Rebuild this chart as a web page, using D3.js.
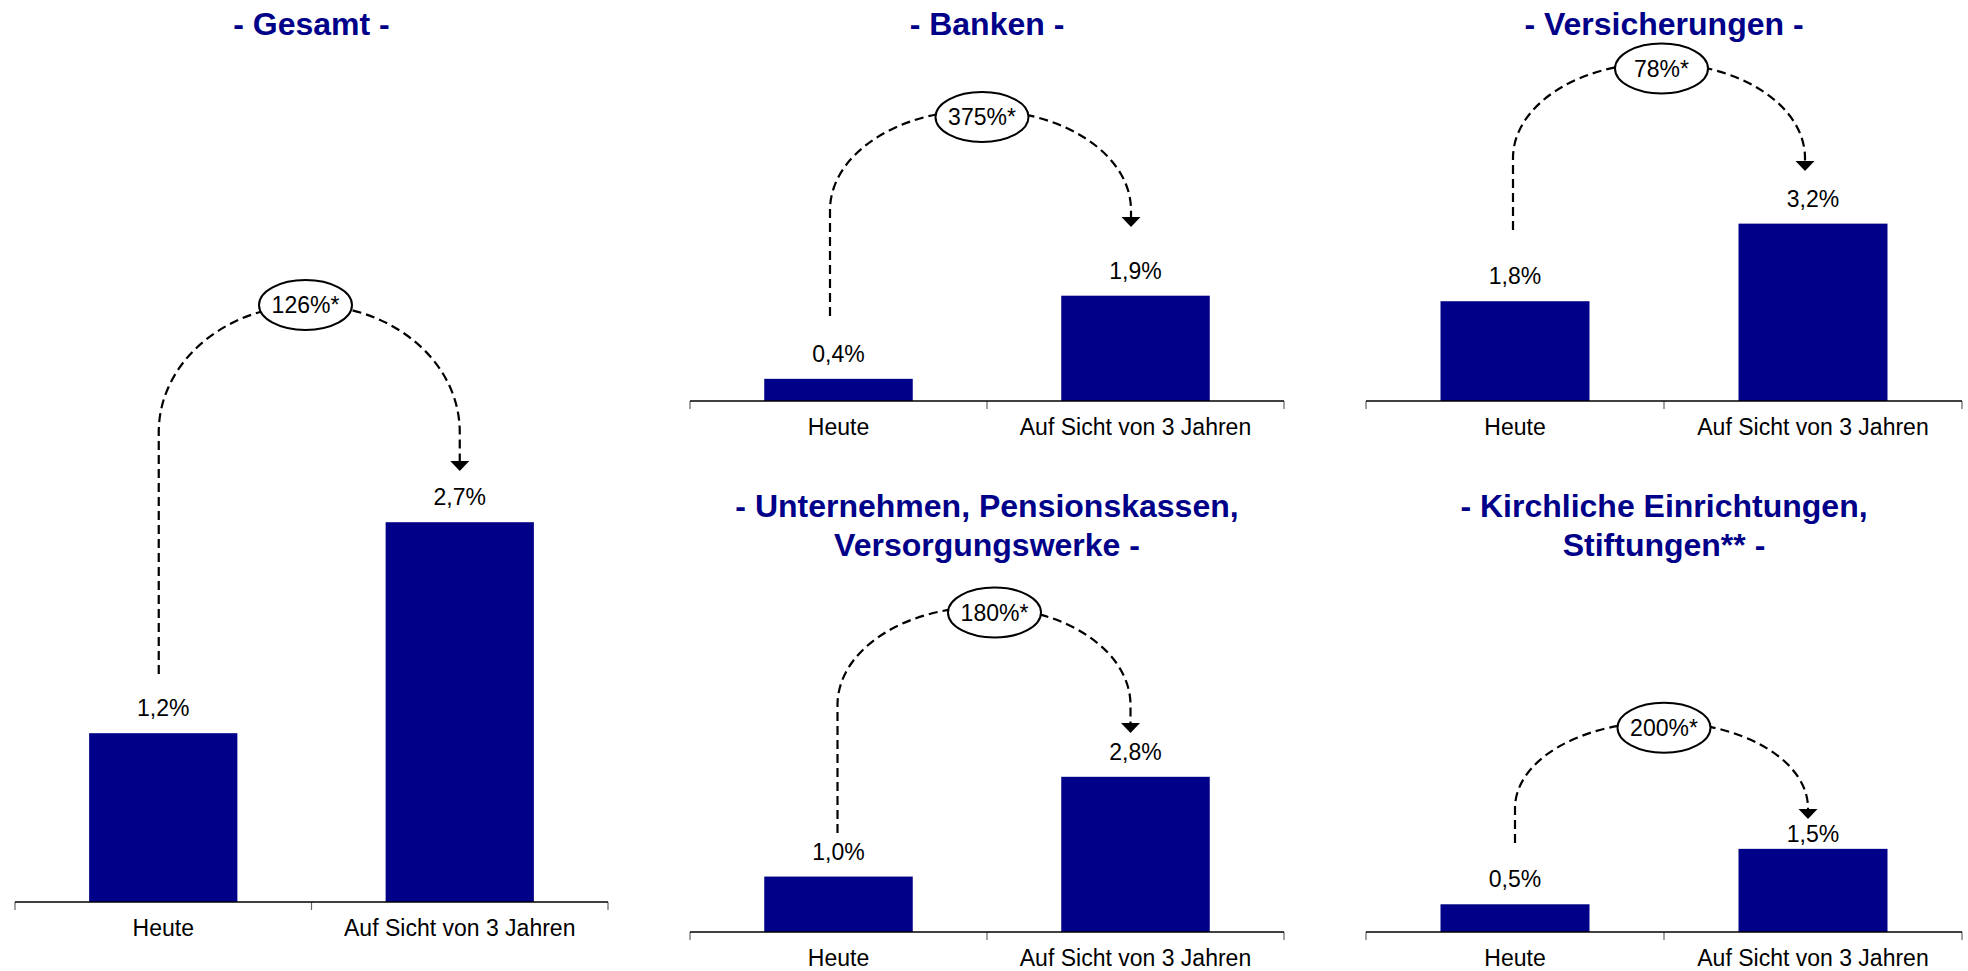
<!DOCTYPE html>
<html lang="de">
<head>
<meta charset="utf-8">
<title>Anteil heute und auf Sicht von 3 Jahren</title>
<script src="https://cdn.jsdelivr.net/npm/d3@7"></script>
<style>
  html, body { margin: 0; padding: 0; background: #ffffff; }
  svg { display: block; }
  text { font-family: "Liberation Sans", Arial, Helvetica, sans-serif; }
</style>
</head>
<body>
<svg id="chart" width="1968" height="971"></svg>
<script>
// ---- data ----
const categories = ["Heute", "Auf Sicht von 3 Jahren"];
const panelTitles = [
  ["- Gesamt -"],
  ["- Banken -"],
  ["- Versicherungen -"],
  ["- Unternehmen, Pensionskassen,", "Versorgungswerke -"],
  ["- Kirchliche Einrichtungen,", "Stiftungen** -"]
];
const heute = [1.2, 0.4, 1.8, 1.0, 0.5];
const aufSicht3Jahre = [2.7, 1.9, 3.2, 2.8, 1.5];
const growthLabels = ["126%*", "375%*", "78%*", "180%*", "200%*"];

// ---- layout of the five small charts ----
const layout = [
  { x0: 15,   x1: 608,  axisY: 902, yMax: 3.0, plotH: 422, titleY: 35, valGap: [17, 17],
    ell: [305.5, 305],  arc: { dxL: -4.5, dxR: 0,    top: 305, yv: 432, leftEnd: 674, tip: 471 } },
  { x0: 690,  x1: 1284, axisY: 401, yMax: 3.5, plotH: 194, titleY: 35, valGap: [17, 17],
    ell: [982, 117],    arc: { dxL: -8.5, dxR: -4.5, top: 110, yv: 210, leftEnd: 316, tip: 227 } },
  { x0: 1366, x1: 1962, axisY: 401, yMax: 3.5, plotH: 194, titleY: 35, valGap: [17, 17],
    ell: [1661.5, 68.5], arc: { dxL: -2,  dxR: -8,   top: 63,  yv: 158, leftEnd: 230, tip: 171 } },
  { x0: 690,  x1: 1284, axisY: 932, yMax: 3.5, plotH: 194, titleY: 517, valGap: [17, 17],
    ell: [994.5, 612.5], arc: { dxL: -1,  dxR: -5,   top: 607, yv: 705, leftEnd: 833, tip: 733 } },
  { x0: 1366, x1: 1962, axisY: 932, yMax: 3.5, plotH: 194, titleY: 517, valGap: [17, 7],
    ell: [1664, 727.7],  arc: { dxL: 0,   dxR: -5,   top: 722, yv: 808, leftEnd: 843, tip: 819 } }
];

const BAR = "#000088";
const TITLE = "#000088";
const fmt = v => d3.format(".1f")(v).replace(".", ",") + "%";

const svg = d3.select("#chart");

layout.forEach((L, i) => {
  const values = [heute[i], aufSicht3Jahre[i]];
  const g = svg.append("g").attr("class", "panel");

  const x = d3.scaleBand()
    .domain(categories)
    .range([L.x0, L.x1])
    .paddingInner(0.5)
    .paddingOuter(0.25);
  const y = d3.scaleLinear()
    .domain([0, L.yMax])
    .range([L.axisY, L.axisY - L.plotH]);

  // title (one or two lines)
  const cxTitle = (L.x0 + L.x1) / 2;
  const t = g.append("text")
    .attr("x", cxTitle)
    .attr("y", L.titleY)
    .attr("text-anchor", "middle")
    .attr("font-size", 32)
    .attr("font-weight", "bold")
    .attr("fill", TITLE);
  panelTitles[i].forEach((line, k) => {
    t.append("tspan").attr("x", cxTitle).attr("dy", k === 0 ? 0 : 39).text(line);
  });

  // bars
  g.selectAll("rect.bar")
    .data(values)
    .join("rect")
    .attr("class", "bar")
    .attr("x", (d, k) => x(categories[k]))
    .attr("width", x.bandwidth())
    .attr("y", d => y(d))
    .attr("height", d => y(0) - y(d))
    .attr("fill", BAR);

  // value labels
  g.selectAll("text.val")
    .data(values)
    .join("text")
    .attr("class", "val")
    .attr("x", (d, k) => x(categories[k]) + x.bandwidth() / 2)
    .attr("y", (d, k) => y(d) - L.valGap[k])
    .attr("text-anchor", "middle")
    .attr("font-size", 23)
    .attr("fill", "#000")
    .text(d => fmt(d));

  // category axis: baseline with boundary ticks
  const bounds = [L.x0, (L.x0 + L.x1) / 2, L.x1];
  g.selectAll("line.tick")
    .data(bounds)
    .join("line")
    .attr("class", "tick")
    .attr("x1", d => d).attr("x2", d => d)
    .attr("y1", L.axisY).attr("y2", L.axisY + 8)
    .attr("stroke", "#666").attr("stroke-width", 1.2);
  g.append("line")
    .attr("x1", L.x0).attr("x2", L.x1)
    .attr("y1", L.axisY).attr("y2", L.axisY)
    .attr("stroke", "#000").attr("stroke-width", 1.6);
  g.selectAll("text.cat")
    .data(categories)
    .join("text")
    .attr("class", "cat")
    .attr("x", d => x(d) + x.bandwidth() / 2)
    .attr("y", L.axisY + 34)
    .attr("text-anchor", "middle")
    .attr("font-size", 23)
    .attr("fill", "#000")
    .text(d => d);

  // dashed growth arc from "Heute" to "Auf Sicht von 3 Jahren"
  const A = L.arc;
  const xl = x(categories[0]) + x.bandwidth() / 2 + A.dxL;
  const xr = x(categories[1]) + x.bandwidth() / 2 + A.dxR;
  const rx = (xr - xl) / 2;
  const ry = A.yv - A.top;
  const arrowH = 10, arrowW = 19;
  const p = d3.path();
  p.moveTo(xl, A.leftEnd);
  p.lineTo(xl, A.yv);
  const arcD = p.toString() +
    ` A${rx},${ry} 0 0 1 ${xr},${A.yv} L${xr},${A.tip - arrowH}`;
  g.append("path")
    .attr("d", arcD)
    .attr("fill", "none")
    .attr("stroke", "#000")
    .attr("stroke-width", 2.2)
    .attr("stroke-dasharray", "9,5");

  // arrow head
  g.append("path")
    .attr("d", `M${xr - arrowW / 2},${A.tip - arrowH} L${xr + arrowW / 2},${A.tip - arrowH} L${xr},${A.tip} Z`)
    .attr("fill", "#000");

  // growth bubble
  g.append("ellipse")
    .attr("cx", L.ell[0]).attr("cy", L.ell[1])
    .attr("rx", 46.5).attr("ry", 25)
    .attr("fill", "#fff")
    .attr("stroke", "#000")
    .attr("stroke-width", 2);
  g.append("text")
    .attr("x", L.ell[0])
    .attr("y", L.ell[1] + 8)
    .attr("text-anchor", "middle")
    .attr("font-size", 23)
    .attr("fill", "#000")
    .text(growthLabels[i]);
});
</script>
</body>
</html>
